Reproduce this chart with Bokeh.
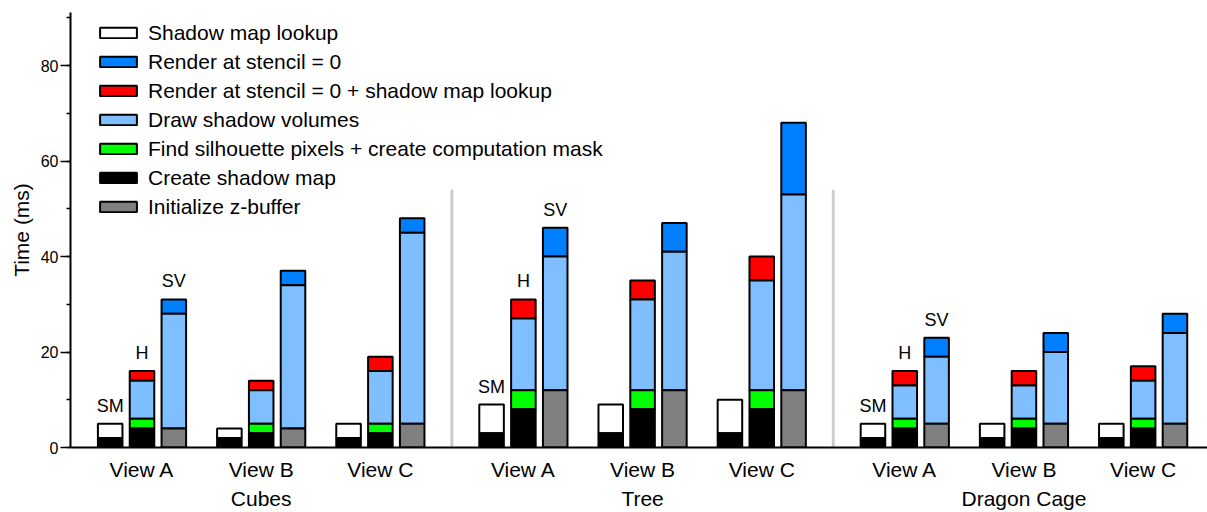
from bokeh.plotting import figure
from bokeh.models import (Range1d, FixedTicker, SingleIntervalTicker, LinearAxis,
                          Legend, LegendItem, ColumnDataSource)
from bokeh.core.properties import value
from bokeh.embed import file_html
from bokeh.resources import INLINE

# ---------------- data ----------------
groups = ["Cubes", "Tree", "Dragon Cage"]
views = ["View A", "View B", "View C"]
methods = ["SM", "H", "SV"]

# SM method (per group x view, in order Cubes A,B,C, Tree A,B,C, Dragon Cage A,B,C)
sm_create_shadow_map = [2, 2, 2, 3, 3, 3, 2, 2, 2]
sm_shadow_map_lookup = [3, 2, 3, 6, 6, 7, 3, 3, 3]
# H method
h_create_shadow_map = [4, 3, 3, 8, 8, 8, 4, 4, 4]
h_find_silhouette = [2, 2, 2, 4, 4, 4, 2, 2, 2]
h_draw_shadow_volumes = [8, 7, 11, 15, 19, 23, 7, 7, 8]
h_render_stencil_lookup = [2, 2, 3, 4, 4, 5, 3, 3, 3]
# SV method
sv_init_zbuffer = [4, 4, 5, 12, 12, 12, 5, 5, 5]
sv_draw_shadow_volumes = [24, 30, 40, 28, 29, 41, 14, 15, 19]
sv_render_stencil = [3, 3, 3, 6, 6, 15, 4, 4, 4]

legend_labels = [
    "Shadow map lookup",
    "Render at stencil = 0",
    "Render at stencil = 0 + shadow map lookup",
    "Draw shadow volumes",
    "Find silhouette pixels + create computation mask",
    "Create shadow map",
    "Initialize z-buffer",
]
legend_colors = ["#ffffff", "#0080ff", "#ff0000", "#80bfff", "#00ff00", "#000000", "#808080"]

stacks = {
    "SM": [("Create shadow map", sm_create_shadow_map),
           ("Shadow map lookup", sm_shadow_map_lookup)],
    "H": [("Create shadow map", h_create_shadow_map),
          ("Find silhouette pixels + create computation mask", h_find_silhouette),
          ("Draw shadow volumes", h_draw_shadow_volumes),
          ("Render at stencil = 0 + shadow map lookup", h_render_stencil_lookup)],
    "SV": [("Initialize z-buffer", sv_init_zbuffer),
           ("Draw shadow volumes", sv_draw_shadow_volumes),
           ("Render at stencil = 0", sv_render_stencil)],
}

# ---------------- layout constants ----------------
FONT = "Liberation Sans"
VIEW_STEP = 10
GROUP_GAP = 2
BAR_STEP = 2.67
BAR_W = 2.06
SEPARATOR_TOP = 54


def view_center(gi, vi):
    return gi * (len(views) * VIEW_STEP + GROUP_GAP) + vi * VIEW_STEP


def bar_x(gi, vi, mi):
    return view_center(gi, vi) + (mi - (len(methods) - 1) / 2) * BAR_STEP


# build stacked segments per component
segs = {lbl: dict(x=[], bottom=[], top=[]) for lbl in legend_labels}
totals = {}
for mi, m in enumerate(methods):
    for gi in range(len(groups)):
        for vi in range(len(views)):
            k = gi * len(views) + vi
            base = 0
            for comp, vals in stacks[m]:
                segs[comp]["x"].append(bar_x(gi, vi, mi))
                segs[comp]["bottom"].append(base)
                segs[comp]["top"].append(base + vals[k])
                base += vals[k]
            totals[(m, gi, vi)] = base

p = figure(width=1207, height=512,
           x_range=Range1d(-6.0, 89.4), y_range=Range1d(0, 91.1),
           output_backend="svg", toolbar_location=None,
           x_axis_type=None, y_axis_type=None,
           min_border_left=70, min_border_right=0,
           min_border_top=12, min_border_bottom=65)
p.outline_line_color = None
p.background_fill_color = "white"

# separators between groups
sep_x = [(view_center(gi, len(views) - 1) + view_center(gi + 1, 0)) / 2
         for gi in range(len(groups) - 1)]
p.segment(x0=sep_x, y0=[0] * len(sep_x), x1=sep_x, y1=[SEPARATOR_TOP] * len(sep_x),
          line_color="#cccccc", line_width=3)

renderers = {}
for lbl, col in zip(legend_labels, legend_colors):
    src = ColumnDataSource(segs[lbl])
    renderers[lbl] = p.vbar(x="x", bottom="bottom", top="top", width=BAR_W, source=src,
                            fill_color=col, line_color="black", line_width=2)

# method labels above first view of each group
lx, ly, lt = [], [], []
for gi in range(len(groups)):
    for mi, m in enumerate(methods):
        lx.append(bar_x(gi, 0, mi))
        ly.append(totals[(m, gi, 0)])
        lt.append(m)
p.text(x=lx, y=ly, text=lt, text_font=value(FONT), text_font_size=value("18px"),
       text_align="center", text_baseline="alphabetic", y_offset=-18, text_color="black")

# y axis
yaxis = LinearAxis(ticker=SingleIntervalTicker(interval=20, num_minor_ticks=2),
                   axis_label="Time (ms)")
yaxis.axis_label_text_font = FONT
yaxis.axis_label_text_font_size = "21px"
yaxis.axis_label_text_font_style = "normal"
yaxis.axis_label_text_color = "black"
yaxis.axis_label_standoff = 5
yaxis.major_label_text_font = FONT
yaxis.major_label_text_font_size = "16px"
yaxis.major_label_text_color = "black"
yaxis.major_label_standoff = 2
yaxis.axis_line_width = 2
yaxis.major_tick_out = 10
yaxis.major_tick_in = 0
yaxis.major_tick_line_width = 1.5
yaxis.minor_tick_out = 4
yaxis.minor_tick_in = 0
yaxis.minor_tick_line_width = 1.5
p.add_layout(yaxis, "left")

# x axis: views
vticks = [view_center(gi, vi) for gi in range(len(groups)) for vi in range(len(views))]
vlabels = {view_center(gi, vi): views[vi] for gi in range(len(groups)) for vi in range(len(views))}
xaxis = LinearAxis(ticker=FixedTicker(ticks=vticks), major_label_overrides=vlabels)
xaxis.axis_line_width = 2
xaxis.major_tick_out = 0
xaxis.major_tick_in = 0
xaxis.major_tick_line_color = None
xaxis.minor_tick_line_color = None
xaxis.major_label_standoff = 10
xaxis.major_label_text_font = FONT
xaxis.major_label_text_font_size = "21px"
xaxis.major_label_text_color = "black"
p.add_layout(xaxis, "below")

# x axis: groups
gticks = [view_center(gi, 1) for gi in range(len(groups))]
glabels = {view_center(gi, 1): groups[gi] for gi in range(len(groups))}
gaxis = LinearAxis(ticker=FixedTicker(ticks=gticks), major_label_overrides=glabels)
gaxis.axis_line_color = None
gaxis.major_tick_out = 0
gaxis.major_tick_in = 0
gaxis.major_tick_line_color = None
gaxis.minor_tick_line_color = None
gaxis.major_label_standoff = 3
gaxis.major_label_text_font = FONT
gaxis.major_label_text_font_size = "21px"
gaxis.major_label_text_color = "black"
p.add_layout(gaxis, "below")

legend = Legend(items=[LegendItem(label=value(lbl), renderers=[renderers[lbl]]) for lbl in legend_labels],
                location=(25, 226), orientation="vertical",
                label_text_font=FONT, label_text_font_size="21px", label_text_color="black",
                glyph_width=46, glyph_height=13, label_standoff=7,
                label_height=29, spacing=0, padding=0, margin=0,
                border_line_color=None, background_fill_alpha=0)
p.add_layout(legend)

open("out.html", "w").write(file_html(p, INLINE))
